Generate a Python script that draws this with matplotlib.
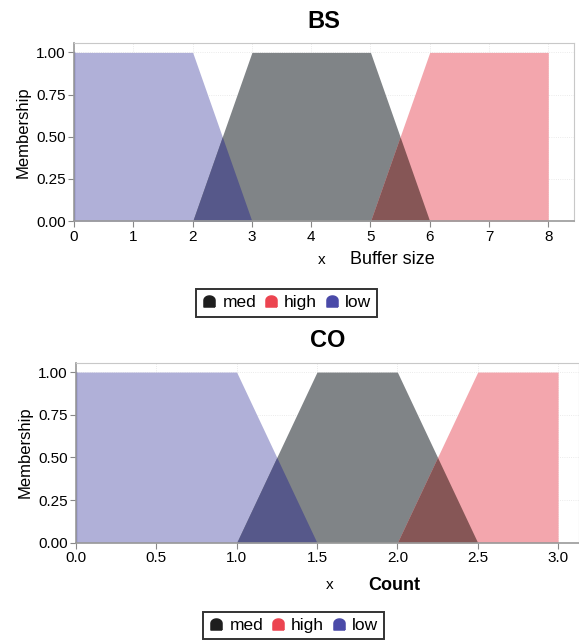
import numpy as np
import matplotlib.pyplot as plt
import matplotlib.path as mpath
from matplotlib.lines import Line2D

plt.rcParams['font.family'] = ['Liberation Sans', 'DejaVu Sans']

# BS (buffer size) membership breakpoints
bs_x = [0, 2, 3, 5, 6, 8]
bs_low = [1, 1, 0, 0, 0, 0]
bs_med = [0, 0, 1, 1, 0, 0]
bs_high = [0, 0, 0, 0, 1, 1]
bs_ticks = [0, 1, 2, 3, 4, 5, 6, 7, 8]

# CO (count) membership breakpoints
co_x = [0, 1.0, 1.5, 2.0, 2.5, 3.0]
co_low = [1, 1, 0, 0, 0, 0]
co_med = [0, 0, 1, 1, 0, 0]
co_high = [0, 0, 0, 0, 1, 1]
co_ticks = [0.0, 0.5, 1.0, 1.5, 2.0, 2.5, 3.0]

y_ticks = [0.0, 0.25, 0.5, 0.75, 1.0]

c_low = '#b0b0d8'
c_med = '#808487'
c_high = '#f3a6ad'
c_low_med = '#56588a'
c_med_high = '#865656'

# dome-shaped legend marker
th = np.linspace(0, np.pi, 20)
verts = np.column_stack([np.cos(th), 0.2 + np.sin(th) * 0.8])
verts = np.vstack([[[1, -1]], verts, [[-1, -1], [1, -1]]])
dome = mpath.Path(verts)


def draw(ax, x, low, med, high, ticks, xmax, fmt):
    xx = np.linspace(x[0], x[-1], 2001)
    lo = np.interp(xx, x, low)
    me = np.interp(xx, x, med)
    hi = np.interp(xx, x, high)
    ax.fill_between(xx, 0, lo, color=c_low, lw=0)
    ax.fill_between(xx, 0, me, color=c_med, lw=0)
    ax.fill_between(xx, 0, hi, color=c_high, lw=0)
    ax.fill_between(xx, 0, np.minimum(lo, me), color=c_low_med, lw=0)
    ax.fill_between(xx, 0, np.minimum(me, hi), color=c_med_high, lw=0)
    ax.plot([x[0], x[0]], [0, 1], color='#7070b8', lw=1)
    ax.set_xlim(x[0], xmax)
    ax.set_ylim(0, 1.055)
    ax.set_xticks(ticks)
    ax.set_xticklabels([fmt.format(t) for t in ticks])
    ax.set_yticks(y_ticks)
    ax.set_yticklabels(['%.2f' % v for v in y_ticks])
    ax.grid(True, color='#e4e4e4', lw=0.6, ls=':')
    ax.set_axisbelow(True)
    for s in ['top', 'right']:
        ax.spines[s].set_color('#c8c8c8')
    for s in ['bottom', 'left']:
        ax.spines[s].set_color('#999999')
        ax.spines[s].set_linewidth(1.2)
    ax.tick_params(labelsize=11, length=4, color='#888888', pad=2)
    ax.set_ylabel('Membership', fontsize=12, labelpad=4)


fig = plt.figure(figsize=(5.79, 6.43), dpi=100)

ax1 = fig.add_axes([0.128, 0.656, 0.864, 0.277])
draw(ax1, bs_x, bs_low, bs_med, bs_high, bs_ticks, 8.44, '{:g}')
ax1.set_title('BS', fontsize=17, fontweight='bold', pad=11)
fig.text(0.556, 0.595, 'x', fontsize=11, ha='center', va='center')
fig.text(0.605, 0.597, 'Buffer size', fontsize=13, ha='left', va='center')

ax2 = fig.add_axes([0.131, 0.156, 0.869, 0.280])
draw(ax2, co_x, co_low, co_med, co_high, co_ticks, 3.13, '{:.1f}')
ax2.set_title('CO', fontsize=17, fontweight='bold', pad=11)
fig.text(0.570, 0.090, 'x', fontsize=11, ha='center', va='center')
fig.text(0.636, 0.090, 'Count', fontsize=13, fontweight='bold', ha='left', va='center')

handles = [Line2D([], [], ls='none', marker=dome, markersize=8, color=c)
           for c in ['#1e1e1e', '#ec4450', '#4a4aa8']]
labels = ['med', 'high', 'low']
for y, xc in [(0.529, 0.495), (0.027, 0.507)]:
    leg = fig.legend(handles, labels, loc='center', bbox_to_anchor=(xc, y),
                     ncol=3, fontsize=12.5, frameon=True, fancybox=False,
                     handlelength=0.8, handletextpad=0.35, columnspacing=0.45,
                     borderpad=0.35, borderaxespad=0)
    leg.get_frame().set_edgecolor('black')
    leg.get_frame().set_linewidth(1.4)

fig.savefig('out.png', dpi=100)
